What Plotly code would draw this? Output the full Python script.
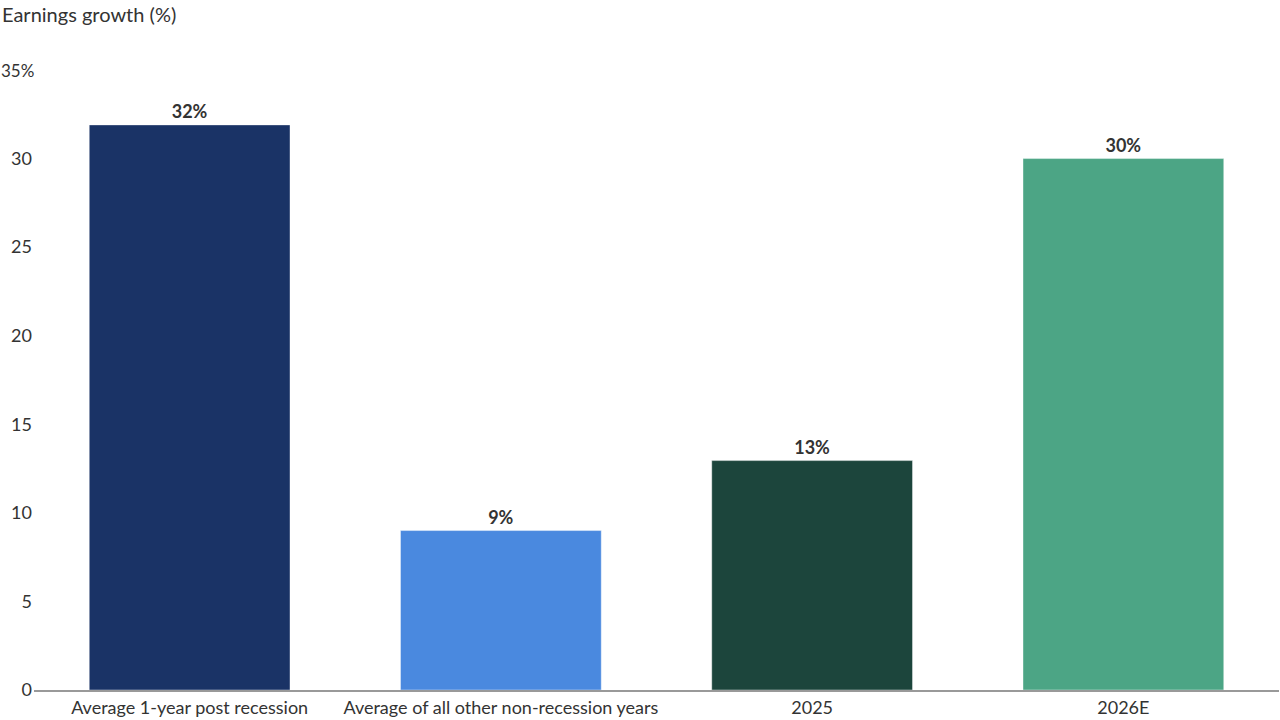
import plotly.graph_objects as go

# chart data
categories = ["Average 1-year post recession", "Average of all other non-recession years",
              "2025", "2026E"]
growth = [31.9, 9.0, 12.95, 30.0]
bar_labels = ["32%", "9%", "13%", "30%"]
bar_colors = ["#1a3366", "#4a89df", "#1c453c", "#4ca585"]
tick_vals = [0, 5, 10, 15, 20, 25, 30, 35]
tick_text = ["0", "5", "10", "15", "20", "25", "30", ""]
top_tick_label = "35%"

FONT = "Lato"
TXT = "#333333"

fig = go.Figure(go.Bar(
    x=categories, y=growth, text=bar_labels,
    textposition="outside", cliponaxis=False,
    textfont=dict(family=FONT, size=18, color=TXT, weight="bold"),
    marker=dict(color=bar_colors, line=dict(width=1, color="rgba(255,255,255,0.4)")),
    width=0.645, hoverinfo="skip",
))

fig.update_layout(
    width=1280, height=720,
    paper_bgcolor="white", plot_bgcolor="white",
    font=dict(family=FONT, size=18, color=TXT),
    margin=dict(l=34, r=1, t=70, b=30, autoexpand=False),
    showlegend=False,
    annotations=[
        dict(text="Earnings growth (%)", xref="paper", yref="paper",
             x=0, y=1, xanchor="left", yanchor="middle",
             xshift=-34, yshift=56, showarrow=False,
             font=dict(family=FONT, size=20, color=TXT)),
        # top tick label sits a little wider than the others
        dict(text=top_tick_label, xref="paper", yref="y",
             x=0, y=tick_vals[-1], xanchor="right", yanchor="middle",
             xshift=2, showarrow=False,
             font=dict(family=FONT, size=17, color=TXT)),
    ],
)
fig.update_xaxes(showline=True, linecolor="#999999", linewidth=2, ticks="",
                 tickfont=dict(size=18, color=TXT), showgrid=False, automargin=False)
fig.update_yaxes(range=[0, 35], tickvals=tick_vals, ticktext=tick_text,
                 showgrid=False, zeroline=False, ticks="", ticklabelstandoff=1,
                 tickfont=dict(size=18, color=TXT), automargin=False)

# drop the default page margin so the figure sits at the window origin
fig.write_html("out.html", config={"displayModeBar": False},
               post_script="document.body.style.margin='0';")
